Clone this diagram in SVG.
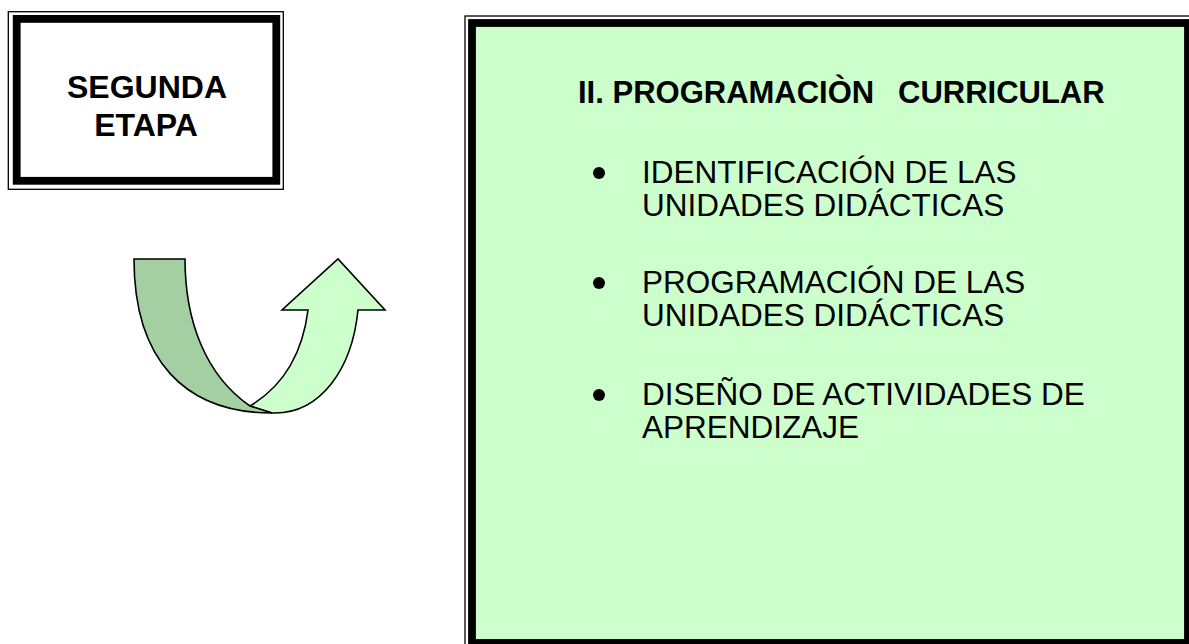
<svg xmlns="http://www.w3.org/2000/svg" width="1189" height="644" viewBox="0 0 1189 644">
<style>
.thin{fill:none;stroke:#000;stroke-width:1.3}
.thick{stroke:#000;stroke-width:7.8}
.bold{font-family:"Liberation Sans",Arial,sans-serif;font-weight:bold;fill:#000}
.reg{font-family:"Liberation Sans",Arial,sans-serif;font-size:31.5px;fill:#000}
.arrow{stroke:#000;stroke-width:1.6;stroke-linejoin:miter}
</style>
<rect width="1189" height="644" fill="#fff"/>
<g id="box-etapa">
<rect class="thin" x="8.3" y="11.7" width="275" height="177.6"/>
<rect class="thick" x="16.7" y="18.9" width="259.6" height="161.9" fill="#fff"/>
<text class="bold" font-size="32" x="147" y="98" text-anchor="middle">SEGUNDA</text>
<text class="bold" font-size="32" x="146" y="136" text-anchor="middle">ETAPA</text>
</g>
<g id="connectors">
<g id="uturn-arrow">
<path class="arrow" fill="#ccffcc" d="M250,406 C285,385 303,350 308,310 L282,310 L338,259 L385,310 L358,310 C352,370 320,413 275,413 L272,413 Z"/>
<path class="arrow" fill="#a3cfa3" d="M134,259 L185,259 C185,320 205,375 250,406 L272,413 C185,413 134,360 134,259 Z"/>
</g>
</g>
<g id="box-programacion">
<rect class="thin" x="465" y="16" width="730" height="634"/>
<rect class="thick" x="472" y="23" width="716" height="620" fill="#ccffcc"/>
<text class="bold" font-size="31" x="578" y="103" xml:space="preserve">II. PROGRAMACIÒN  <tspan x="898">CURRICULAR</tspan></text>
<circle cx="599" cy="173" r="6"/>
<text class="reg" x="642" y="183">IDENTIFICACIÓN DE LAS</text>
<text class="reg" x="642" y="216">UNIDADES DIDÁCTICAS</text>
<circle cx="599" cy="283" r="6"/>
<text class="reg" x="642" y="293">PROGRAMACIÓN DE LAS</text>
<text class="reg" x="642" y="326">UNIDADES DIDÁCTICAS</text>
<circle cx="599" cy="395" r="6"/>
<text class="reg" x="642" y="405">DISEÑO DE ACTIVIDADES DE</text>
<text class="reg" x="642" y="438">APRENDIZAJE</text>
</g>
</svg>
